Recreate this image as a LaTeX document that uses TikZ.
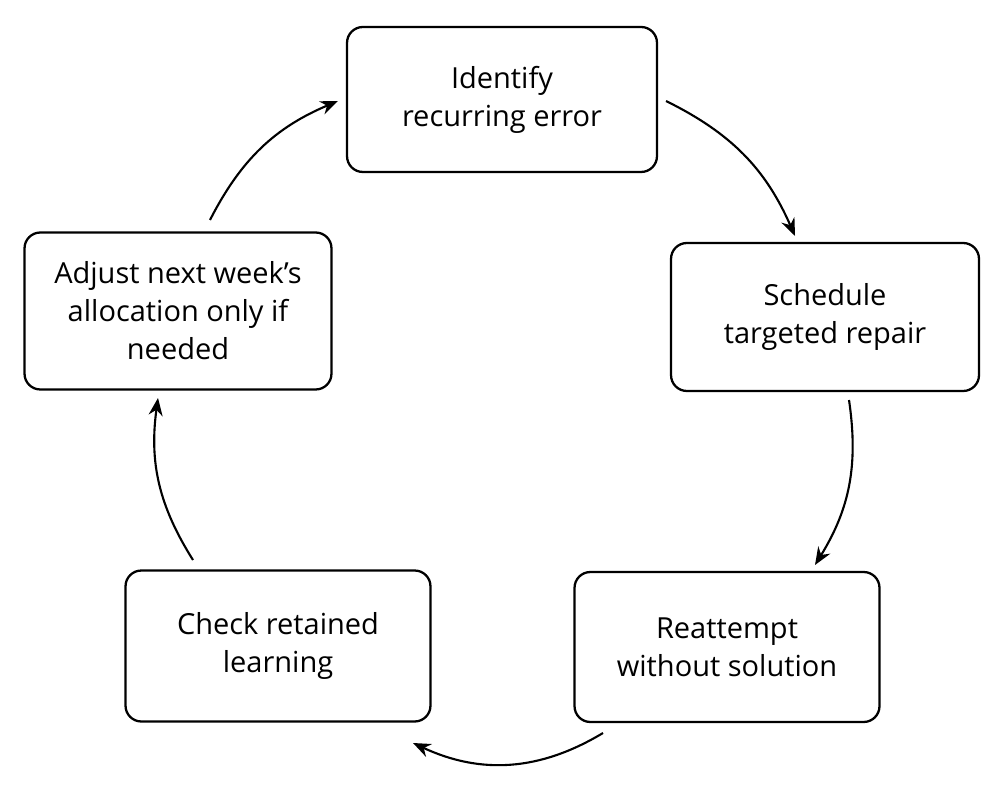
\documentclass[tikz,border=0pt]{standalone}
\usepackage{fontspec}
\setmainfont{Open Sans}
\usetikzlibrary{arrows.meta}
\tikzset{
  stepbox/.style={draw, line width=1.3pt, rounded corners=9pt, align=center,
    font=\fontsize{16.5}{21.6}\selectfont},
  cyc/.style={-{Stealth[length=10pt,width=8pt]}, line width=1.2pt}
}
\begin{document}
\begin{tikzpicture}[x=0.02cm, y=-0.02cm]
  \useasboundingbox (0,0) rectangle (1006,786);
  % steps of the cycle
  \node[stepbox, minimum width=6.2cm, minimum height=2.9cm] (ident) at (502,99.5) {Identify\\recurring error};
  \node[stepbox, minimum width=6.16cm, minimum height=2.96cm] (sched) at (825,317) {Schedule\\targeted repair};
  \node[stepbox, minimum width=6.1cm, minimum height=3.0cm] (reatt) at (727,647) {Reattempt\\without solution};
  \node[stepbox, minimum width=6.1cm, minimum height=3.02cm] (check) at (278,646) {Check retained\\learning};
  \node[stepbox, minimum width=6.14cm, minimum height=3.14cm] (adjust) at (178,311) {Adjust next week’s\\allocation only if\\needed};
  % arrow ends
  \coordinate (a1) at (666,101); \coordinate (b1) at (795,236);
  \coordinate (a2) at (849,400); \coordinate (b2) at (815,565);
  \coordinate (a3) at (603,733); \coordinate (b3) at (413,743);
  \coordinate (a4) at (193,560); \coordinate (b4) at (158,398);
  \coordinate (a5) at (210,220); \coordinate (b5) at (338,101);
  \draw[cyc] (a1) to[bend left=20] (b1);
  \draw[cyc] (a2) to[bend left=20] (b2);
  \draw[cyc] (a3) to[bend left=28] (b3);
  \draw[cyc] (a4) to[bend left=20] (b4);
  \draw[cyc] (a5) to[bend left=20] (b5);
\end{tikzpicture}
\end{document}
